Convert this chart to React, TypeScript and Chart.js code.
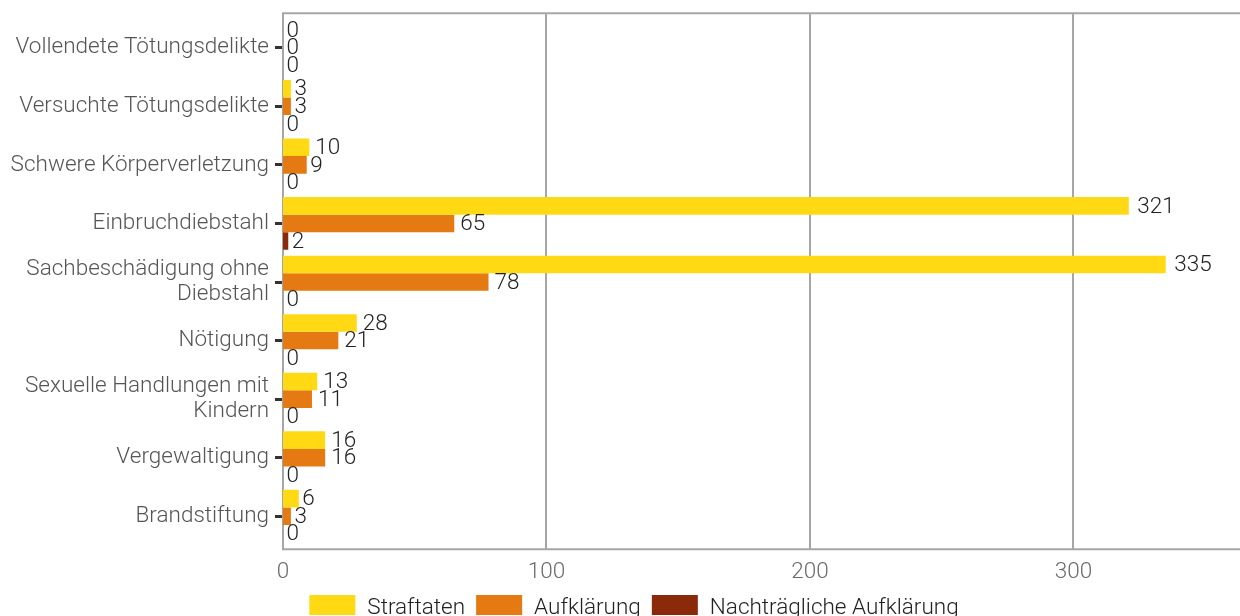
import React, { useEffect, useRef } from "react";
import { Chart, registerables } from "chart.js";

Chart.register(...registerables);

const categories: (string | string[])[] = [
  "Vollendete Tötungsdelikte",
  "Versuchte Tötungsdelikte",
  "Schwere Körperverletzung",
  "Einbruchdiebstahl",
  ["Sachbeschädigung ohne", "Diebstahl"],
  "Nötigung",
  ["Sexuelle Handlungen mit", "Kindern"],
  "Vergewaltigung",
  "Brandstiftung",
];

const straftaten = [0, 3, 10, 321, 335, 28, 13, 16, 6];
const aufklaerung = [0, 3, 9, 65, 78, 21, 11, 16, 3];
const nachtraeglich = [0, 0, 0, 2, 0, 0, 0, 0, 0];

const seriesNames = ["Straftaten", "Aufklärung", "Nachträgliche Aufklärung"];
const seriesColors = ["#FFDA14", "#E67A12", "#8A2A0A"];
const xTicks = [0, 100, 200, 300];

const FONT = "Roboto";
const FS = 22.5;
const LEGEND_SHIFT = 14;

const framePlugin = {
  id: "frame",
  beforeDatasetsDraw(chart: any) {
    const { ctx, chartArea, scales } = chart;
    const top = chartArea.top - 5.2;
    const bottom = chartArea.bottom + 3.8;
    ctx.save();
    ctx.strokeStyle = "#A6A6A6";
    ctx.lineWidth = 2;
    xTicks.forEach((v) => {
      const x = Math.round(scales.x.getPixelForValue(v));
      ctx.beginPath();
      ctx.moveTo(x, top);
      ctx.lineTo(x, bottom);
      ctx.stroke();
    });
    const left = Math.round(scales.x.getPixelForValue(0));
    ctx.beginPath();
    ctx.moveTo(chart.width, top);
    ctx.lineTo(left, top);
    ctx.lineTo(left, bottom);
    ctx.lineTo(chart.width, bottom);
    ctx.stroke();
    ctx.restore();
  },
};

const labelPlugin = {
  id: "barLabels",
  afterDatasetsDraw(chart: any) {
    const { ctx } = chart;
    ctx.save();
    ctx.font = `300 ${FS}px ${FONT}`;
    ctx.fillStyle = "#222222";
    ctx.textAlign = "left";
    ctx.textBaseline = "middle";
    chart.data.datasets.forEach((ds: any, di: number) => {
      const meta = chart.getDatasetMeta(di);
      meta.data.forEach((bar: any, i: number) => {
        const txt = String(ds.data[i]);
        const w = ctx.measureText(txt).width;
        ctx.fillText(txt, bar.x + 0.2 * w + 1, bar.y + 1);
      });
    });
    ctx.restore();
  },
};

const legendPlugin = {
  id: "bottomLegend",
  afterDraw(chart: any) {
    const { ctx, chartArea } = chart;
    const boxW = 46;
    const boxH = 20;
    const gapText = 12;
    const gapItem = 11;
    ctx.save();
    ctx.font = `300 ${FS}px ${FONT}`;
    const widths = chart.data.datasets.map((ds: any) => ctx.measureText(ds.label).width);
    const total =
      widths.reduce((a: number, w: number) => a + boxW + gapText + w, 0) +
      gapItem * (widths.length - 1);
    let x = chart.width / 2 + LEGEND_SHIFT - total / 2;
    const boxTop = chartArea.bottom + 49.5;
    chart.data.datasets.forEach((ds: any, i: number) => {
      ctx.fillStyle = ds.backgroundColor;
      ctx.fillRect(x, boxTop, boxW, boxH);
      x += boxW + gapText;
      ctx.fillStyle = "#222222";
      ctx.textAlign = "left";
      ctx.textBaseline = "alphabetic";
      ctx.fillText(ds.label, x, boxTop + 18.5);
      x += widths[i] + gapItem;
    });
    ctx.restore();
  },
};

export default function App() {
  const ref = useRef<HTMLCanvasElement>(null);

  useEffect(() => {
    document.body.style.margin = "0";
    const canvas = ref.current!;
    const chart = new Chart(canvas, {
      type: "bar",
      data: {
        labels: categories,
        datasets: [straftaten, aufklaerung, nachtraeglich].map((d, i) => ({
          label: seriesNames[i],
          data: d,
          backgroundColor: seriesColors[i],
          borderWidth: 0,
          categoryPercentage: 0.9,
          barPercentage: 1,
        })),
      },
      options: {
        indexAxis: "y",
        animation: false,
        responsive: false,
        devicePixelRatio: 1,
        layout: { padding: { top: 18.2, left: 0, right: 0, bottom: 30.5 } },
        scales: {
          x: {
            min: 0,
            max: 363.2,
            afterBuildTicks: (scale: any) => {
              scale.ticks = xTicks.map((v) => ({ value: v }));
            },
            afterFit: (scale: any) => {
              scale.height = 40;
            },
            grid: { display: false, drawTicks: false, tickLength: 0 },
            border: { display: false },
            ticks: {
              color: "#6B6B6B",
              font: { family: FONT, size: FS, weight: "300" as any, lineHeight: 1.2 },
              padding: 13,
              maxRotation: 0,
            },
          },
          y: {
            afterFit: (scale: any) => {
              scale.width = 283;
            },
            grid: {
              display: true,
              drawOnChartArea: false,
              drawTicks: true,
              tickLength: 8,
              offset: false,
              color: "#333333",
              lineWidth: 3,
            },
            border: { display: false },
            ticks: {
              color: "#555555",
              font: { family: FONT, size: FS, weight: "300" as any, lineHeight: 25 / FS },
              padding: 6,
            },
          },
        },
        plugins: {
          legend: { display: false },
          tooltip: { enabled: false },
        },
      },
      plugins: [framePlugin, labelPlugin, legendPlugin],
    });
    return () => chart.destroy();
  }, []);

  return (
    <div style={{ width: 1240, height: 616, overflow: "hidden" }}>
      <canvas ref={ref} width={1240} height={616} style={{ display: "block" }} />
    </div>
  );
}
